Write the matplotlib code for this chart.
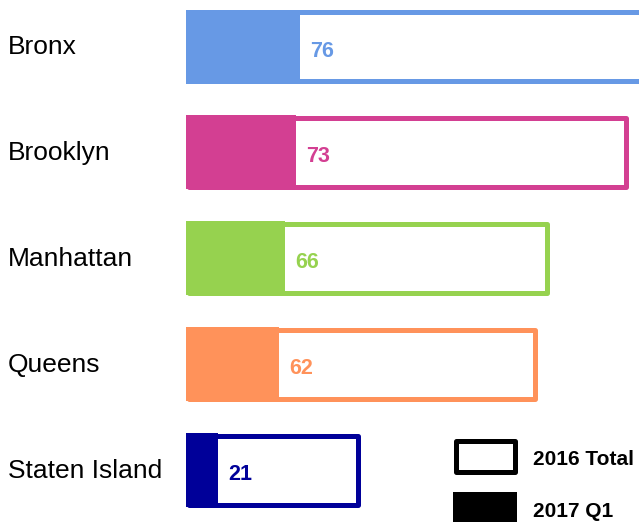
import matplotlib
matplotlib.use("Agg")
import matplotlib.pyplot as plt
from matplotlib.patches import Rectangle

plt.rcParams['font.family'] = ['Liberation Sans', 'DejaVu Sans']

boroughs = ["Bronx", "Brooklyn", "Manhattan", "Queens", "Staten Island"]
total_2016 = [310, 295, 242, 234, 116]
q1_2017 = [76, 73, 66, 62, 21]
colors = ["#6799E5", "#D33F92", "#96D24F", "#FF925A", "#000099"]

W, H = 639, 522
fig = plt.figure(figsize=(W / 100, H / 100), dpi=100)
ax = fig.add_axes([186 / W, 0, (W - 186) / W, 1])

spacing_px = 105.9
px_per_unit = 1.5
ax.set_xlim(0, (W - 186) / px_per_unit)
top = -46.5 / spacing_px
ax.set_ylim((H - 46.5) / spacing_px, top)
ax.axis('off')

bar_h = 74 / spacing_px
lw_px = 5
off_x = (lw_px / 2) / px_per_unit
off_y = (lw_px / 2) / spacing_px

for i, (name, tot, q1, c) in enumerate(zip(boroughs, total_2016, q1_2017, colors)):
    ax.barh(i, tot - 2 * off_x, left=off_x, height=bar_h - 2 * off_y, color='white',
            edgecolor=c, linewidth=lw_px * 0.72, joinstyle='round', zorder=1)
    ax.barh(i, q1, left=0, height=bar_h, color=c, edgecolor='none', zorder=2)
    ax.text(q1 + 7, i + 10 / spacing_px, str(q1), color=c, fontsize=15.5, fontweight='bold',
            va='baseline', ha='left', zorder=3)
    fig.text(8 / W, 1 - (46.5 + spacing_px * i + 7.5) / H, name, fontsize=19,
             va='baseline', ha='left', color='black')

# legend
fig.patches.append(Rectangle((455.5 / W, 1 - 472 / H), 59 / W, 31 / H, transform=fig.transFigure,
                             facecolor='white', edgecolor='black', linewidth=3.6,
                             joinstyle='round'))
fig.patches.append(Rectangle((453 / W, 1 - 530 / H), 64 / W, 38 / H, transform=fig.transFigure,
                             facecolor='black', edgecolor='none'))
fig.text(533 / W, 1 - 465 / H, "2016 Total", fontsize=15, fontweight='bold', va='baseline', ha='left')
fig.text(533 / W, 1 - 517 / H, "2017 Q1", fontsize=15, fontweight='bold', va='baseline', ha='left')

fig.savefig("out.png", dpi=100)
